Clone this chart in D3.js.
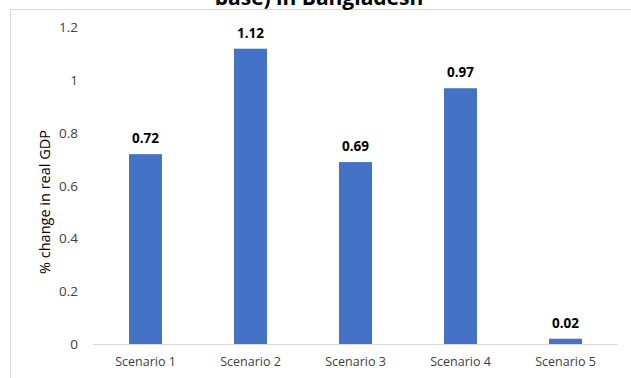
<!DOCTYPE html>
<html>
<head>
<meta charset="utf-8">
<script src="https://cdn.jsdelivr.net/npm/d3@7"></script>
<style>
  html, body { margin: 0; padding: 0; background: #fff; }
  svg { display: block; font-family: "Open Sans", "Noto Sans", sans-serif; }
</style>
</head>
<body>
<svg id="chart" width="631" height="378"></svg>
<script>
// Scenario results: % change in real GDP
const categories = ["Scenario 1", "Scenario 2", "Scenario 3", "Scenario 4", "Scenario 5"];
const values = [0.72, 1.12, 0.69, 0.97, 0.02];
const yTicks = [0, 0.2, 0.4, 0.6, 0.8, 1, 1.2];
const titleText = "base) in Bangladesh";
const yTitle = "% change in real GDP";

const svg = d3.select("#chart");
const W = 631, H = 378;
const plot = { left: 93, right: 618, top: 27.6, bottom: 344 };

// chart frame (extends past the window on the right and bottom)
svg.append("rect")
  .attr("x", 10.5).attr("y", 9.5)
  .attr("width", W + 20).attr("height", H + 20)
  .attr("fill", "none").attr("stroke", "#d9d9d9").attr("stroke-width", 1);

// title, partly clipped by the top edge
svg.append("text")
  .attr("x", 319).attr("y", 4.5)
  .attr("text-anchor", "middle")
  .attr("font-size", 21).attr("font-weight", "bold").attr("fill", "#000")
  .text(titleText);

const x = d3.scaleBand().domain(categories).range([plot.left, plot.right]).paddingInner(0.686).paddingOuter(0.343);
const y = d3.scaleLinear().domain([0, 1.2]).range([plot.bottom, plot.top]);

// y axis labels (no axis line)
const yAxis = d3.axisLeft(y).tickValues(yTicks).tickSize(0).tickPadding(0).tickFormat(d => String(d));
const gy = svg.append("g").attr("transform", `translate(${78},0)`).call(yAxis);
gy.select(".domain").remove();
gy.selectAll("text").attr("font-size", 13.5).attr("fill", "#404040").attr("font-family", "Open Sans, sans-serif");

// bars
svg.append("g").selectAll("rect").data(values).join("rect")
  .attr("x", (d, i) => x(categories[i]))
  .attr("y", d => y(d))
  .attr("width", x.bandwidth())
  .attr("height", d => y(0) - y(d))
  .attr("fill", "#4472c4");

// x axis
const xAxis = d3.axisBottom(x).tickSize(0).tickPadding(13);
const gx = svg.append("g").attr("transform", `translate(0,${plot.bottom})`).call(xAxis);
gx.select(".domain").attr("stroke", "#d9d9d9").attr("stroke-width", 1.2)
  .attr("d", `M${plot.left},0.5H${plot.right}`);
gx.selectAll("text").attr("font-size", 12.5).attr("fill", "#404040").attr("font-family", "Open Sans, sans-serif");

// value labels
svg.append("g").selectAll("text").data(values).join("text")
  .attr("x", (d, i) => x(categories[i]) + x.bandwidth() / 2)
  .attr("y", d => y(d) - 11)
  .attr("text-anchor", "middle")
  .attr("font-size", 13.5).attr("font-weight", "bold").attr("fill", "#000")
  .text(d => d.toFixed(2));

// y axis title
svg.append("text")
  .attr("transform", `translate(50,202) rotate(-90)`)
  .attr("text-anchor", "middle")
  .attr("font-size", 14.5).attr("fill", "#000")
  .text(yTitle);
</script>
</body>
</html>
